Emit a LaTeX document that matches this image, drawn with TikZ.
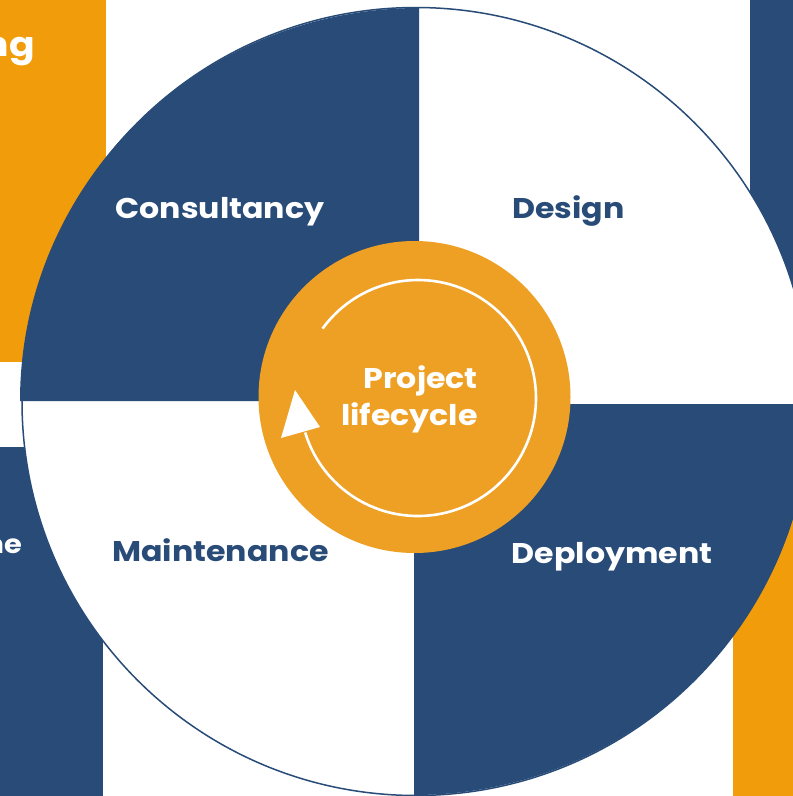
\documentclass[tikz,border=0pt]{standalone}
\usepackage{fontspec}
\newfontfamily\labelfont{Poppins}[FakeStretch=1.11]
\definecolor{navy}{HTML}{284B78}
\definecolor{amber}{HTML}{F19D0B}
\definecolor{ringorange}{HTML}{EEA025}
\begin{document}
\begin{tikzpicture}[x=1pt,y=-1pt,
  lbl/.style={font=\labelfont\bfseries\fontsize{28.5}{37}\selectfont, inner sep=0pt},
  whitelbl/.style={lbl, text=white},
  navylbl/.style={lbl, text=navy}]
\useasboundingbox (0,0) rectangle (793,796);
\fill[white] (0,0) rectangle (793,796);
% background bars
\fill[amber] (0,0) rectangle (106,362);
\fill[navy] (0,447) rectangle (103,796);
\fill[navy] (750,0) rectangle (793,420);
\fill[amber] (733,450) rectangle (793,796);
% partial texts on bars
\node[whitelbl, font=\labelfont\bfseries\fontsize{34}{40}\selectfont, anchor=base east] (ngtext) at (35,56) {ng};
\node[whitelbl, font=\labelfont\bfseries\fontsize{26}{32}\selectfont, anchor=base east] (netext) at (22,553) {ne};
% big white circle with outline
\draw[navy, line width=1.5pt, fill=white] (416,401.5) circle[radius=394];
% dark quadrants
\fill[navy] (419,401) -- (419,8) arc[start angle=-90, end angle=-180, x radius=399, y radius=393] -- cycle;
\fill[navy] (414,404) -- (810,404) arc[start angle=0, end angle=90, x radius=396, y radius=391] -- cycle;
% inner orange disc
\fill[ringorange] (414.5,397) circle[radius=156];
% white cycle arrow
\draw[white, line width=2.6pt] (418,398) ++(216:118) arc[start angle=216, end angle=523, radius=118];
\fill[white] (281,438) -- (320,427) -- (295,390) -- cycle;
% labels
\node[whitelbl, anchor=base] (consultancy) at (220,218) {Consultancy};
\node[navylbl, anchor=base] (design) at (568.5,218) {Design};
\node[navylbl, anchor=base] (maintenance) at (220.5,561) {Maintenance};
\node[whitelbl, anchor=base] (deployment) at (612,563) {Deployment};
\node[whitelbl, align=right, anchor=base east] (lifecycle) at (478,425) {Project\\lifecycle};
\end{tikzpicture}
\end{document}
